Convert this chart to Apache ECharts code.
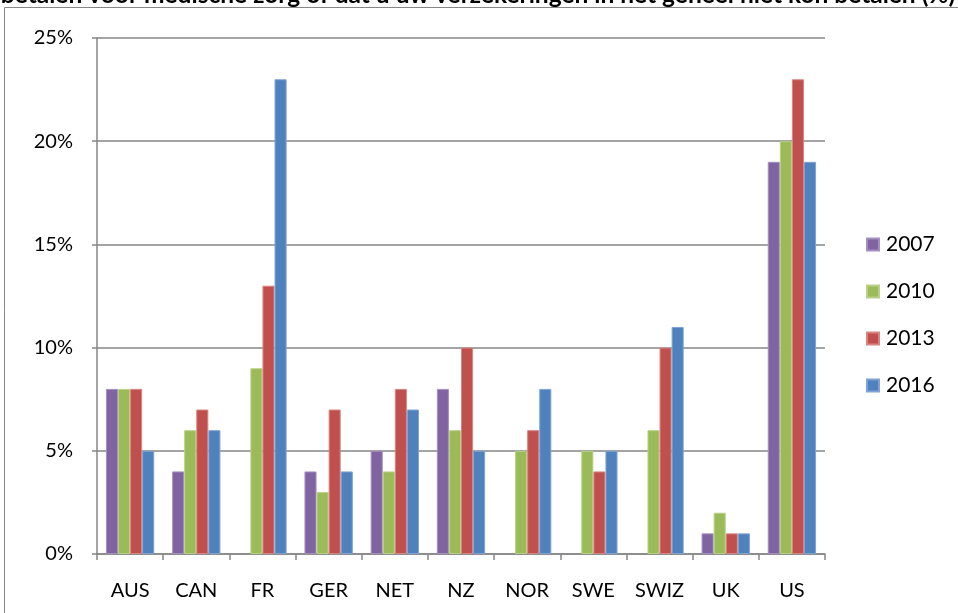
<!DOCTYPE html>
<html><head><meta charset="utf-8">
<script src="https://cdn.jsdelivr.net/npm/echarts@6/dist/echarts.min.js"></script>
<style>html,body{margin:0;padding:0;background:#fff}#c{width:958px;height:613px}</style>
</head><body><div id="c"></div>
<script>
const categories = ['AUS','CAN','FR','GER','NET','NZ','NOR','SWE','SWIZ','UK','US'];
const seriesNames = ['2007','2010','2013','2016'];
const v2007 = [8, 4, null, 4, 5, 8, null, null, null, 1, 19];
const v2010 = [8, 6, 9, 3, 4, 6, 5, 5, 6, 2, 20];
const v2013 = [8, 7, 13, 7, 8, 10, 6, 4, 10, 1, 23];
const v2016 = [5, 6, 23, 4, 7, 5, 8, 5, 11, 1, 19];
const yTicks = [0, 5, 10, 15, 20, 25];
const titleText = 'betalen voor medische zorg of dat u uw verzekeringen in het geheel niet kon betalen (%)';

const colors = ['#8064A2', '#9BBB59', '#C0504D', '#4F81BD'];
const borders = ['#A48FC0', '#B9D186', '#D98583', '#7FA3D6'];
const allValues = [v2007, v2010, v2013, v2016];
const FONT = 'Lato, "Open Sans", sans-serif';

const chart = echarts.init(document.getElementById('c'), null, {renderer: 'canvas'});
chart.setOption({
  animation: false,
  backgroundColor: '#fff',
  textStyle: {fontFamily: FONT},
  graphic: [
    {type: 'rect', shape: {x: 4.5, y: 7.5, width: 1000, height: 700},
     style: {fill: 'none', stroke: '#868686', lineWidth: 1}, silent: true},
    {type: 'text', x: 478, y: 8,
     style: {text: titleText, textAlign: 'center', textVerticalAlign: 'bottom',
             font: 'bold 24.5px ' + FONT, fill: '#000'}}
  ],
  grid: {left: 97, top: 38, width: 728, height: 516, containLabel: false},
  legend: {
    orient: 'vertical', left: 861, top: 229, itemGap: 26, itemWidth: 12, itemHeight: 12,
    data: seriesNames, icon: 'rect',
    textStyle: {fontSize: 21, color: '#000', fontFamily: FONT, padding: [0,0,0,2]}
  },
  xAxis: {
    type: 'category', data: categories,
    axisLine: {lineStyle: {color: '#868686', width: 1.5}},
    axisTick: {show: true, alignWithLabel: false, length: 6, lineStyle: {color: '#868686', width: 1.5}},
    axisLabel: {fontSize: 20, color: '#000', margin: 27, fontFamily: FONT}
  },
  yAxis: {
    type: 'value', min: yTicks[0], max: yTicks[yTicks.length-1], interval: 5,
    axisLine: {show: true, lineStyle: {color: '#868686', width: 1.5}},
    axisTick: {show: true, length: 5, lineStyle: {color: '#868686', width: 1.5}},
    splitLine: {lineStyle: {color: '#868686', width: 1.5}},
    axisLabel: {fontSize: 20, color: '#000', margin: 24, formatter: '{value}%', fontFamily: FONT}
  },
  series: seriesNames.map((n, i) => ({
    name: n, type: 'bar', data: allValues[i],
    barGap: '0%', barCategoryGap: '27%',
    itemStyle: {color: colors[i], borderColor: borders[i], borderWidth: 1}
  }))
});
</script></body></html>
